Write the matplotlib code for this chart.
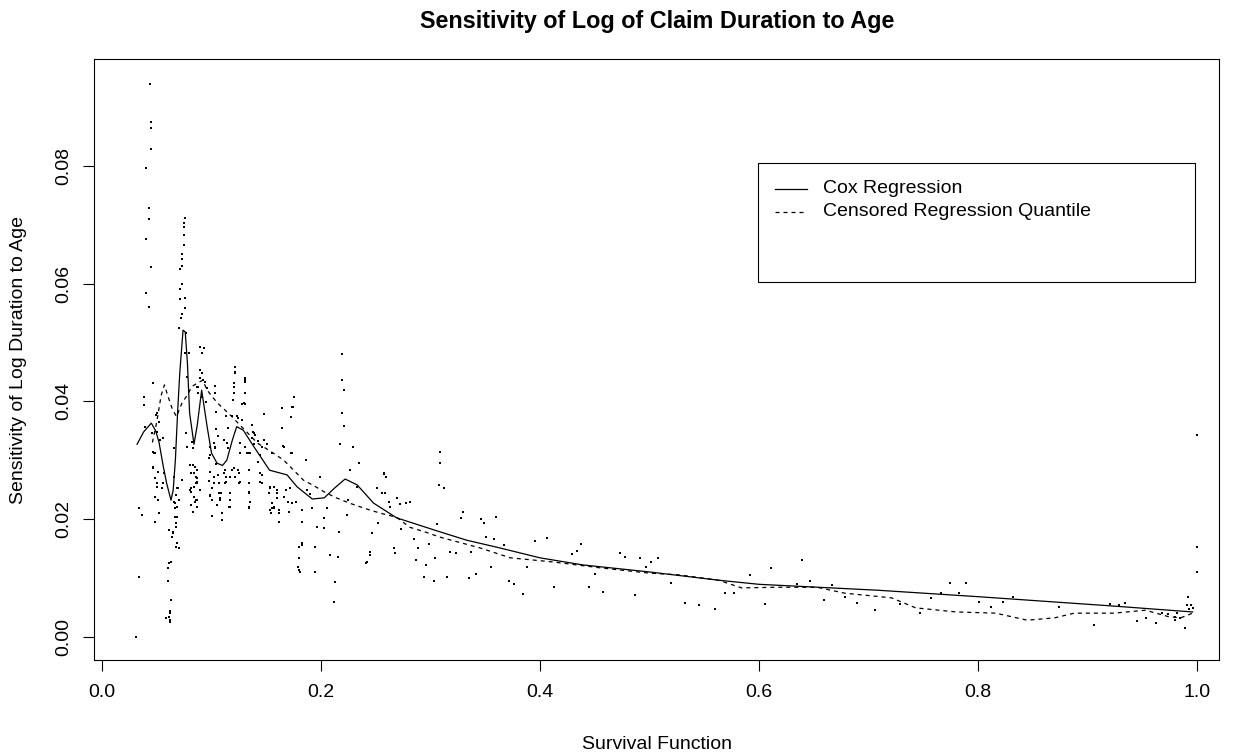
import numpy as np
import matplotlib
matplotlib.use("Agg")
import matplotlib.pyplot as plt
from matplotlib.patches import Rectangle

plt.rcParams['font.family'] = ['Liberation Sans', 'DejaVu Sans']

# fitted curves
cox_x = [0.032, 0.038, 0.045, 0.049, 0.052, 0.056, 0.059, 0.063, 0.065, 0.067,
         0.069, 0.071, 0.074, 0.076, 0.078, 0.080, 0.084, 0.087, 0.091, 0.096,
         0.100, 0.105, 0.110, 0.114, 0.119, 0.123, 0.129, 0.139, 0.153, 0.169,
         0.178, 0.192, 0.203, 0.212, 0.222, 0.233, 0.248, 0.269, 0.309, 0.333,
         0.363, 0.400, 0.439, 0.500, 0.563, 0.600, 0.708, 0.800, 0.924, 0.996]
cox_y = [0.0327, 0.0348, 0.0363, 0.0350, 0.0331, 0.0289, 0.0261, 0.0232, 0.0249, 0.0300,
         0.0380, 0.0448, 0.0521, 0.0518, 0.0465, 0.0380, 0.0327, 0.0360, 0.0419, 0.0357,
         0.0312, 0.0295, 0.0291, 0.0300, 0.0334, 0.0357, 0.0351, 0.0322, 0.0283, 0.0275,
         0.0255, 0.0234, 0.0236, 0.0252, 0.0268, 0.0258, 0.0227, 0.0202, 0.0178, 0.0164,
         0.0151, 0.0134, 0.0122, 0.0110, 0.0096, 0.0089, 0.0079, 0.0068, 0.0052, 0.0042]

crq_x = [0.046, 0.050, 0.054, 0.057, 0.060, 0.064, 0.068, 0.073, 0.078, 0.082,
         0.087, 0.092, 0.096, 0.105, 0.117, 0.130, 0.142, 0.154, 0.166, 0.175,
         0.184, 0.195, 0.203, 0.214, 0.226, 0.240, 0.254, 0.269, 0.281, 0.295,
         0.309, 0.327, 0.345, 0.373, 0.412, 0.455, 0.500, 0.527, 0.563, 0.584,
         0.617, 0.653, 0.678, 0.721, 0.743, 0.780, 0.816, 0.845, 0.870, 0.888,
         0.924, 0.953, 0.974, 0.985, 0.996]
crq_y = [0.0330, 0.0365, 0.0410, 0.0428, 0.0410, 0.0388, 0.0374, 0.0397, 0.0411, 0.0425,
         0.0431, 0.0436, 0.0419, 0.0398, 0.0377, 0.0352, 0.0329, 0.0315, 0.0300, 0.0283,
         0.0266, 0.0255, 0.0246, 0.0236, 0.0227, 0.0218, 0.0210, 0.0203, 0.0186, 0.0178,
         0.0169, 0.0160, 0.0151, 0.0134, 0.0127, 0.0117, 0.0108, 0.0105, 0.0096, 0.0083,
         0.0084, 0.0084, 0.0074, 0.0066, 0.0049, 0.0042, 0.0040, 0.0028, 0.0032, 0.0040,
         0.0040, 0.0045, 0.0034, 0.0032, 0.0040]

# raw sensitivities (survival, sensitivity)
dots = [
    (0.0435, 0.0940), (0.0444, 0.0874), (0.0444, 0.0865), (0.0444, 0.0829), (0.0402, 0.0797),
    (0.0427, 0.0729), (0.0427, 0.0710), (0.0402, 0.0676), (0.0444, 0.0629), (0.0405, 0.0585),
    (0.0432, 0.0561), (0.0755, 0.0712), (0.0749, 0.0703), (0.0749, 0.0696), (0.0749, 0.0683),
    (0.0749, 0.0666), (0.0731, 0.0650), (0.0728, 0.0642), (0.0731, 0.0630), (0.0710, 0.0625),
    (0.0731, 0.0599), (0.0712, 0.0591), (0.0755, 0.0576), (0.0710, 0.0574), (0.0758, 0.0559),
    (0.0730, 0.0548), (0.0724, 0.0542), (0.0703, 0.0525), (0.0764, 0.0517), (0.0892, 0.0493),
    (0.0934, 0.0490), (0.0913, 0.0482), (0.2192, 0.0480), (0.0755, 0.0483), (0.0792, 0.0483),
    (0.1212, 0.0459), (0.1212, 0.0450), (0.0913, 0.0449), (0.1309, 0.0437), (0.0776, 0.0441),
    (0.0466, 0.0432), (0.2192, 0.0437), (0.1203, 0.0425), (0.2207, 0.0419), (0.1751, 0.0408),
    (0.0380, 0.0408), (0.0868, 0.0424), (0.1294, 0.0397), (0.0380, 0.0394), (0.1738, 0.0391),
    (0.1644, 0.0389), (0.2195, 0.0380), (0.1482, 0.0378), (0.2207, 0.0358), (0.1644, 0.0354),
    (0.0496, 0.0377), (0.0502, 0.0348), (0.0532, 0.0335), (0.0457, 0.0346), (0.0770, 0.0346),
    (0.0776, 0.0323), (0.0472, 0.0312), (0.2171, 0.0327), (0.2292, 0.0323), (0.1659, 0.0323),
    (0.0989, 0.0309), (0.1035, 0.0323), (0.0806, 0.0292), (0.0852, 0.0289), (0.0837, 0.0278),
    (0.0466, 0.0289), (0.0563, 0.0278), (0.0502, 0.0255), (0.0548, 0.0252), (0.0685, 0.0252),
    (0.0731, 0.0266), (0.0868, 0.0263), (0.0806, 0.0249), (0.0843, 0.0238), (0.0898, 0.0249),
    (0.1020, 0.0261), (0.1066, 0.0244), (0.1111, 0.0278), (0.1126, 0.0261), (0.1172, 0.0272),
    (0.1203, 0.0286), (0.1248, 0.0278), (0.1263, 0.0263), (0.1340, 0.0246), (0.1340, 0.0221),
    (0.1080, 0.0232), (0.1005, 0.0232), (0.1157, 0.0221), (0.1354, 0.0312), (0.1385, 0.0346),
    (0.1446, 0.0278), (0.1446, 0.0263), (0.1537, 0.0255), (0.1537, 0.0215), (0.1567, 0.0221),
    (0.1613, 0.0215), (0.1613, 0.0195), (0.1598, 0.0249), (0.1659, 0.0238), (0.1705, 0.0212),
    (0.1735, 0.0227), (0.1796, 0.0153), (0.1796, 0.0113), (0.1826, 0.0159), (0.1872, 0.0249),
    (0.1918, 0.0218), (0.1948, 0.0153), (0.1948, 0.0110), (0.1963, 0.0187), (0.1994, 0.0272),
    (0.2024, 0.0184), (0.2055, 0.0218), (0.2085, 0.0139), (0.2121, 0.0059), (0.2131, 0.0093),
    (0.2152, 0.0135), (0.2162, 0.0178), (0.2237, 0.0207), (0.2244, 0.0232), (0.2268, 0.0283),
    (0.2329, 0.0255), (0.2420, 0.0127), (0.2450, 0.0144), (0.2466, 0.0176), (0.2572, 0.0278),
    (0.2587, 0.0244), (0.2633, 0.0221), (0.2670, 0.0150), (0.2673, 0.0142), (0.0335, 0.0218),
    (0.0365, 0.0207), (0.0335, 0.0102), (0.0313, -0.0001), (0.0487, 0.0195), (0.0517, 0.0211),
    (0.0609, 0.0181), (0.0648, 0.0176), (0.0670, 0.0204), (0.0679, 0.0153), (0.0609, 0.0125),
    (0.0603, 0.0116), (0.0600, 0.0094), (0.0630, 0.0062), (0.0624, 0.0043), (0.0609, 0.0034),
    (0.0624, 0.0028), (0.0685, 0.0221), (0.0660, 0.0229), (0.0700, 0.0232), (0.0837, 0.0255),
    (0.0852, 0.0229), (0.0868, 0.0221), (0.0828, 0.0212), (0.0989, 0.0241), (0.1050, 0.0224),
    (0.1096, 0.0210), (0.1096, 0.0198),
    (0.3087, 0.0314), (0.3087, 0.0296), (0.3078, 0.0258), (0.3120, 0.0253), (0.3057, 0.0192),
    (0.3300, 0.0212), (0.3279, 0.0201), (0.3461, 0.0200), (0.3489, 0.0194), (0.3596, 0.0204),
    (0.2813, 0.0229), (0.2776, 0.0228), (0.2721, 0.0225), (0.2731, 0.0183), (0.2691, 0.0235),
    (0.2852, 0.0166), (0.2888, 0.0150), (0.2868, 0.0130), (0.2959, 0.0122), (0.2941, 0.0101),
    (0.3029, 0.0095), (0.3041, 0.0134), (0.2986, 0.0158), (0.3151, 0.0102), (0.3178, 0.0144),
    (0.3230, 0.0143), (0.3352, 0.0100), (0.3370, 0.0144), (0.3412, 0.0107), (0.3504, 0.0169),
    (0.3580, 0.0166), (0.3550, 0.0119), (0.3717, 0.0095), (0.3766, 0.0090), (0.3842, 0.0073),
    (0.3671, 0.0156), (0.3879, 0.0118), (0.3954, 0.0163), (0.4061, 0.0168), (0.4128, 0.0085),
    (0.4289, 0.0140), (0.4335, 0.0146), (0.4374, 0.0158), (0.4445, 0.0084), (0.4499, 0.0107),
    (0.4578, 0.0076), (0.4731, 0.0143), (0.4776, 0.0135), (0.4868, 0.0071), (0.4913, 0.0133),
    (0.4965, 0.0119), (0.2344, 0.0296), (0.2265, 0.0284), (0.2578, 0.0276), (0.2594, 0.0272),
    (0.2509, 0.0252), (0.2554, 0.0244), (0.2624, 0.0229), (0.2522, 0.0193), (0.2447, 0.0139),
    (0.2407, 0.0126), (0.1860, 0.0300), (0.1900, 0.0242), (0.2027, 0.0201),
    (0.5010, 0.0127), (0.5075, 0.0134), (0.5324, 0.0058), (0.5450, 0.0054), (0.5595, 0.0047),
    (0.5197, 0.0092), (0.5685, 0.0075), (0.5775, 0.0075), (0.5920, 0.0105), (0.6053, 0.0056),
    (0.6108, 0.0117), (0.6396, 0.0130), (0.6345, 0.0090), (0.6468, 0.0095), (0.6594, 0.0062),
    (0.6663, 0.0088), (0.6786, 0.0067), (0.6894, 0.0058), (0.7056, 0.0045), (0.7291, 0.0056),
    (0.7472, 0.0040), (0.7573, 0.0065), (0.7659, 0.0074), (0.7743, 0.0092), (0.7822, 0.0075),
    (0.7887, 0.0092), (0.8006, 0.0059), (0.8121, 0.0050), (0.8230, 0.0059), (0.8319, 0.0068),
    (0.8743, 0.0051), (0.9060, 0.0020), (0.9205, 0.0056), (0.9284, 0.0054), (0.9342, 0.0058),
    (0.9450, 0.0027), (0.9536, 0.0031), (0.9626, 0.0024), (0.9800, 0.0028), (0.9818, 0.0040),
    (0.9890, 0.0015), (0.9919, 0.0068), (0.9905, 0.0054), (0.9941, 0.0054), (1.0000, 0.0153),
    (1.0000, 0.0110), (1.0000, 0.0342), (0.9927, 0.0047), (0.9963, 0.0049), (0.9678, 0.0040),
    (0.9738, 0.0039), (0.9799, 0.0034), (0.9845, 0.0031),
    (0.0393, 0.0356), (0.0484, 0.0312), (0.0560, 0.0337), (0.0499, 0.0380), (0.0523, 0.0365),
    (0.0469, 0.0314), (0.0469, 0.0286), (0.0514, 0.0280), (0.0484, 0.0269), (0.0499, 0.0261),
    (0.0545, 0.0252), (0.0560, 0.0261), (0.0484, 0.0238), (0.0514, 0.0233), (0.0658, 0.0320),
    (0.0658, 0.0272), (0.0697, 0.0252), (0.0676, 0.0241), (0.0667, 0.0227), (0.0667, 0.0218),
    (0.0682, 0.0203), (0.0676, 0.0193), (0.0676, 0.0186), (0.0645, 0.0178), (0.0636, 0.0169),
    (0.0682, 0.0159), (0.0700, 0.0150), (0.0627, 0.0127), (0.0621, 0.0040), (0.0584, 0.0032),
    (0.0621, 0.0025), (0.0819, 0.0331), (0.0834, 0.0320), (0.0828, 0.0292), (0.0810, 0.0279),
    (0.0858, 0.0272), (0.0858, 0.0261), (0.0810, 0.0252), (0.0810, 0.0246), (0.0858, 0.0232),
    (0.0810, 0.0224),
    (0.0895, 0.0453), (0.0910, 0.0448), (0.0895, 0.0439), (0.0925, 0.0436), (0.0941, 0.0433),
    (0.0880, 0.0425), (0.0956, 0.0422), (0.0874, 0.0415), (0.0910, 0.0408), (0.0950, 0.0399),
    (0.1032, 0.0426), (0.1032, 0.0414), (0.1215, 0.0448), (0.1306, 0.0439), (0.1306, 0.0433),
    (0.1208, 0.0431), (0.1208, 0.0414), (0.1306, 0.0414), (0.1199, 0.0402), (0.1276, 0.0395),
    (0.1306, 0.0395), (0.1747, 0.0390), (0.1726, 0.0373), (0.1038, 0.0382), (0.1130, 0.0375),
    (0.1038, 0.0353), (0.1056, 0.0341), (0.1020, 0.0329), (0.1032, 0.0320), (0.1153, 0.0354),
    (0.1190, 0.0375), (0.1230, 0.0375), (0.1239, 0.0371), (0.1276, 0.0369), (0.1117, 0.0334),
    (0.1139, 0.0329), (0.1153, 0.0320), (0.1260, 0.0330), (0.1306, 0.0323), (0.1367, 0.0360),
    (0.1382, 0.0348), (0.1397, 0.0343), (0.1367, 0.0337), (0.1427, 0.0333), (0.1391, 0.0327),
    (0.1458, 0.0323), (0.1482, 0.0335), (0.1504, 0.0327), (0.1550, 0.0312), (0.1732, 0.0312),
    (0.1336, 0.0312), (0.1443, 0.0309),
    (0.0865, 0.0284), (0.0865, 0.0269), (0.0865, 0.0261), (0.0865, 0.0233), (0.0986, 0.0323),
    (0.0977, 0.0303), (0.1038, 0.0293), (0.0986, 0.0280), (0.1026, 0.0272), (0.0977, 0.0265),
    (0.1001, 0.0252), (0.0986, 0.0239), (0.1008, 0.0233), (0.1062, 0.0275), (0.1068, 0.0261),
    (0.1087, 0.0245), (0.1078, 0.0235), (0.1123, 0.0283), (0.1130, 0.0272), (0.1130, 0.0263),
    (0.1169, 0.0244), (0.1169, 0.0233), (0.1169, 0.0221), (0.1001, 0.0205), (0.1093, 0.0199),
    (0.1190, 0.0283), (0.1215, 0.0272), (0.1245, 0.0283), (0.1251, 0.0261), (0.1260, 0.0312),
    (0.1321, 0.0312), (0.1342, 0.0283), (0.1342, 0.0261), (0.1342, 0.0245), (0.1352, 0.0229),
    (0.1342, 0.0218), (0.1427, 0.0297), (0.1458, 0.0275), (0.1458, 0.0261), (0.1534, 0.0252),
    (0.1525, 0.0244), (0.1574, 0.0254), (0.1595, 0.0244), (0.1595, 0.0235), (0.1555, 0.0228),
    (0.1550, 0.0218), (0.1574, 0.0218), (0.1543, 0.0211), (0.1616, 0.0211), (0.1616, 0.0195),
    (0.1696, 0.0229), (0.1708, 0.0212), (0.1767, 0.0229), (0.1823, 0.0216), (0.1829, 0.0195),
    (0.1823, 0.0156), (0.1801, 0.0133), (0.1787, 0.0118), (0.1808, 0.0110), (0.1656, 0.0324),
    (0.1726, 0.0312), (0.1677, 0.0249), (0.1717, 0.0252),
]

x_ticks = [0.0, 0.2, 0.4, 0.6, 0.8, 1.0]
y_ticks = [0.00, 0.02, 0.04, 0.06, 0.08]

fig = plt.figure(figsize=(12.37, 7.54), dpi=100)
ax = fig.add_axes([0.076, 0.1247, 0.9095, 0.7971])

dx = [d[0] for d in dots]
dy = [d[1] for d in dots]
ax.plot(dx, dy, linestyle='none', marker='s', ms=1.8, mew=0, color='black')
ax.plot(cox_x, cox_y, color='black', lw=0.9)
ax.plot(crq_x, crq_y, color='black', lw=0.9, dashes=(3.2, 3.2))

ax.set_xlim(-0.0073, 1.0201)
ax.set_ylim(-0.00396, 0.0982)
ax.set_xticks(x_ticks)
ax.set_xticklabels(['0.0', '0.2', '0.4', '0.6', '0.8', '1.0'])
ax.set_yticks(y_ticks)
ax.set_yticklabels(['0.00', '0.02', '0.04', '0.06', '0.08'], rotation=90, va='center')
ax.tick_params(direction='out', length=8, width=0.8, labelsize=14)
ax.tick_params(axis='x', pad=9)
ax.tick_params(axis='y', pad=8)
for s in ax.spines.values():
    s.set_linewidth(0.8)

# legend box
ax.add_patch(Rectangle((0.590, 0.629), 0.389, 0.198, transform=ax.transAxes,
                       fill=False, lw=0.8, color='black'))
ax.plot([0.605, 0.634], [0.784, 0.784], transform=ax.transAxes, color='black', lw=0.9)
ax.plot([0.605, 0.634], [0.746, 0.746], transform=ax.transAxes, color='black', lw=0.9,
        dashes=(3.2, 3.2))
ax.text(0.648, 0.784, 'Cox Regression', transform=ax.transAxes, fontsize=14, va='center')
ax.text(0.648, 0.746, 'Censored Regression Quantile', transform=ax.transAxes,
        fontsize=14, va='center')

fig.text(0.531, 0.972, 'Sensitivity of Log of Claim Duration to Age', ha='center',
         va='center', fontsize=16.8, fontweight='bold')
fig.text(0.531, 0.012, 'Survival Function', ha='center', va='center', fontsize=14)
fig.text(0.0146, 0.523, 'Sensitivity of Log Duration to Age', ha='center', va='center',
         rotation=90, fontsize=14)

fig.savefig('out.png', dpi=100)
